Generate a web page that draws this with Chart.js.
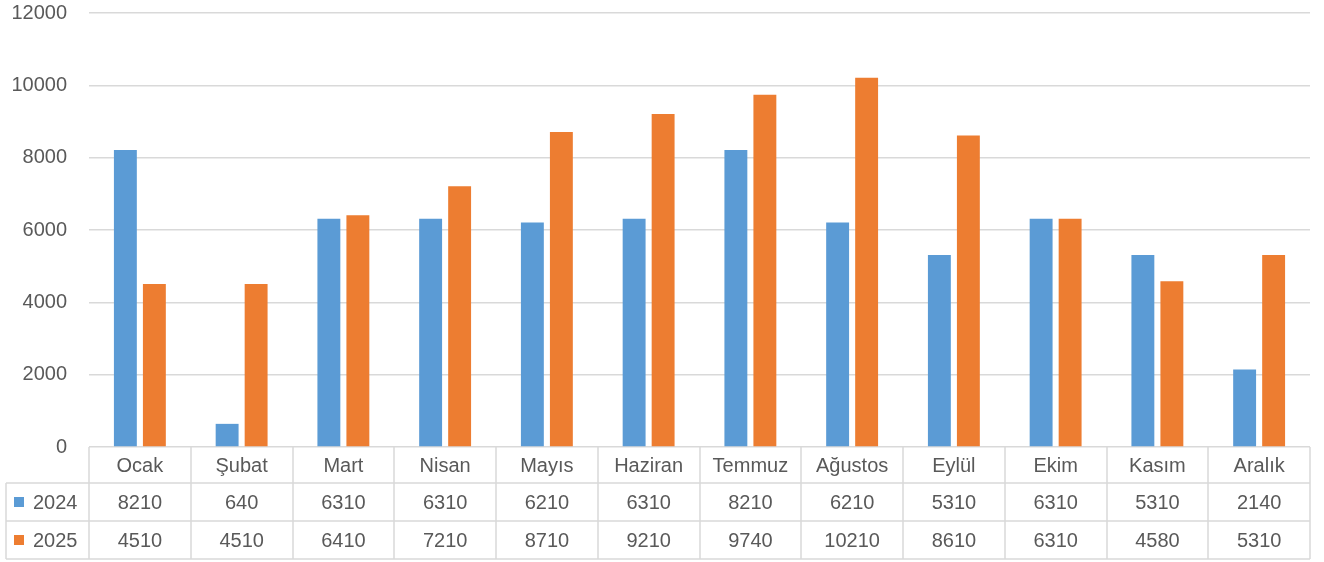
<!DOCTYPE html>
<html>
<head>
<meta charset="utf-8">
<script src="https://cdn.jsdelivr.net/npm/chart.js@4.4.1/dist/chart.umd.min.js"></script>
<style>
  html, body { margin: 0; padding: 0; background: #fff; }
  #wrap { width: 1324px; height: 562px; }
</style>
</head>
<body>
<div id="wrap"><canvas id="chart"></canvas></div>
<script>
// ---- data ----
const months = ['Ocak', 'Şubat', 'Mart', 'Nisan', 'Mayıs', 'Haziran', 'Temmuz', 'Ağustos', 'Eylül', 'Ekim', 'Kasım', 'Aralık'];
const values2024 = [8210, 640, 6310, 6310, 6210, 6310, 8210, 6210, 5310, 6310, 5310, 2140];
const values2025 = [4510, 4510, 6410, 7210, 8710, 9210, 9740, 10210, 8610, 6310, 4580, 5310];
const seriesNames = ['2024', '2025'];
const seriesColors = ['#5B9BD5', '#ED7D31'];

const textColor = '#595959';
const lineColor = '#d9d9d9';
const fontFamily = '"Liberation Sans", Arial, sans-serif';

// data table drawn under the plot, columns follow the x scale
const dataTable = {
  id: 'dataTable',
  afterDraw(chart) {
    const ctx = chart.ctx;
    const x = chart.scales.x;
    const top = chart.chartArea.bottom;
    const rows = [top, top + 36, top + 74, top + 112];
    const legendLeft = 6;

    ctx.save();
    ctx.strokeStyle = lineColor;
    ctx.lineWidth = 1.5;

    // horizontal lines
    ctx.beginPath();
    ctx.moveTo(legendLeft, rows[1]); ctx.lineTo(x.right, rows[1]);
    ctx.moveTo(legendLeft, rows[2]); ctx.lineTo(x.right, rows[2]);
    ctx.moveTo(legendLeft, rows[3]); ctx.lineTo(x.right, rows[3]);
    // vertical lines
    for (let i = 0; i <= months.length; i++) {
      const px = Math.round(x.getPixelForValue(i - 0.5));
      ctx.moveTo(px, rows[0]); ctx.lineTo(px, rows[3]);
    }
    ctx.moveTo(legendLeft, rows[1]); ctx.lineTo(legendLeft, rows[3]);
    ctx.stroke();

    ctx.fillStyle = textColor;
    ctx.font = '20px ' + fontFamily;
    ctx.textAlign = 'center';
    ctx.textBaseline = 'middle';
    const seriesData = [values2024, values2025];
    months.forEach((m, i) => {
      const cx = x.getPixelForValue(i);
      ctx.fillText(m, cx, (rows[0] + rows[1]) / 2 + 1);
      ctx.fillText(String(seriesData[0][i]), cx, (rows[1] + rows[2]) / 2 + 1);
      ctx.fillText(String(seriesData[1][i]), cx, (rows[2] + rows[3]) / 2 + 1);
    });

    // legend keys
    ctx.textAlign = 'left';
    seriesNames.forEach((name, s) => {
      const cy = (rows[s + 1] + rows[s + 2]) / 2;
      ctx.fillStyle = seriesColors[s];
      ctx.fillRect(14, cy - 5, 10, 10);
      ctx.fillStyle = textColor;
      ctx.fillText(name, 33, cy + 1);
    });
    ctx.restore();
  }
};

new Chart(document.getElementById('chart'), {
  type: 'bar',
  data: {
    labels: months,
    datasets: [
      { label: seriesNames[0], data: values2024, backgroundColor: seriesColors[0] },
      { label: seriesNames[1], data: values2025, backgroundColor: seriesColors[1] }
    ]
  },
  options: {
    responsive: true,
    maintainAspectRatio: false,
    animation: false,
    layout: { padding: { top: 13, right: 14, bottom: 115, left: 0 } },
    datasets: { bar: { categoryPercentage: 0.57, barPercentage: 0.79 } },
    plugins: {
      legend: { display: false },
      tooltip: { enabled: false }
    },
    scales: {
      x: { display: false },
      y: {
        min: 0,
        max: 12000,
        ticks: {
          stepSize: 2000,
          color: textColor,
          padding: 22,
          font: { family: fontFamily, size: 20 },
          callback: v => String(v)
        },
        grid: { color: lineColor, lineWidth: 1.5, drawTicks: false },
        border: { display: false },
        afterFit: scale => {
          scale.width = 89;
          scale.paddingTop = 0;
          scale.paddingBottom = 0;
        }
      }
    }
  },
  plugins: [dataTable]
});
</script>
</body>
</html>
